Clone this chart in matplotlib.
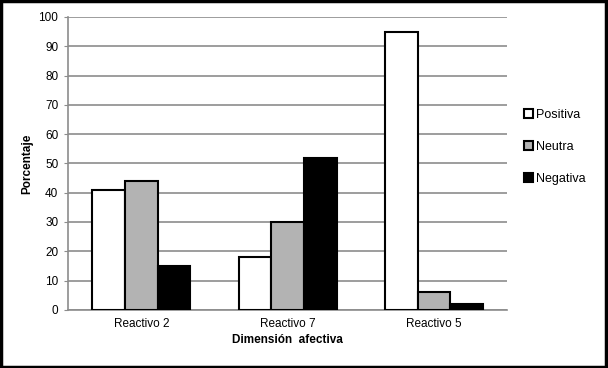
import matplotlib
matplotlib.use("Agg")
import matplotlib.pyplot as plt
import numpy as np
from matplotlib.patches import Rectangle

plt.rcParams["font.family"] = ["Liberation Sans", "DejaVu Sans"]

categories = ["Reactivo 2", "Reactivo 7", "Reactivo 5"]
series_names = ["Positiva", "Neutra", "Negativa"]
positiva = [41, 18, 95]
neutra = [44, 30, 6]
negativa = [15, 52, 2]
colors = ["white", "#b3b3b3", "black"]

fig = plt.figure(figsize=(6.08, 3.68), dpi=100)
ax = fig.add_axes([0.112, 0.158, 0.722, 0.796])

x = np.arange(len(categories))
width = 0.223
for i, (vals, name, col) in enumerate(zip([positiva, neutra, negativa], series_names, colors)):
    ax.bar(x + (i - 1) * width, vals, width, color=col, edgecolor="black",
           linewidth=1.5, label=name, zorder=3)

ax.set_xlim(-0.5, 2.5)
ax.set_ylim(0, 100)
ax.set_yticks(range(0, 101, 10))
ax.set_xticks(x)
ax.set_xticklabels(categories)
ax.yaxis.grid(True, color="#8c8c8c", linewidth=1.2, zorder=0)
ax.set_axisbelow(True)
for s in ["top", "right"]:
    ax.spines[s].set_visible(False)
for s in ["left", "bottom"]:
    ax.spines[s].set_color("#8c8c8c")
    ax.spines[s].set_linewidth(1.2)
ax.tick_params(axis="y", length=3, color="#8c8c8c", labelsize=8.5, pad=4)
ax.tick_params(axis="x", length=0, labelsize=8.5, pad=6)

ax.set_ylabel("Porcentaje", fontsize=8.5, fontweight="bold", labelpad=4)
ax.set_xlabel("Dimensión  afectiva", fontsize=8.5, fontweight="bold", labelpad=3)

fig.legend(loc="center left", bbox_to_anchor=(0.843, 0.6), frameon=False,
           fontsize=9, handlelength=0.75, handleheight=0.75, handletextpad=0.2,
           labelspacing=1.6)

fig.patches.append(Rectangle((0.002, 0.003), 0.994, 0.994, transform=fig.transFigure,
                             fill=False, edgecolor="black", linewidth=2.5))

fig.savefig("out.png", dpi=100)
